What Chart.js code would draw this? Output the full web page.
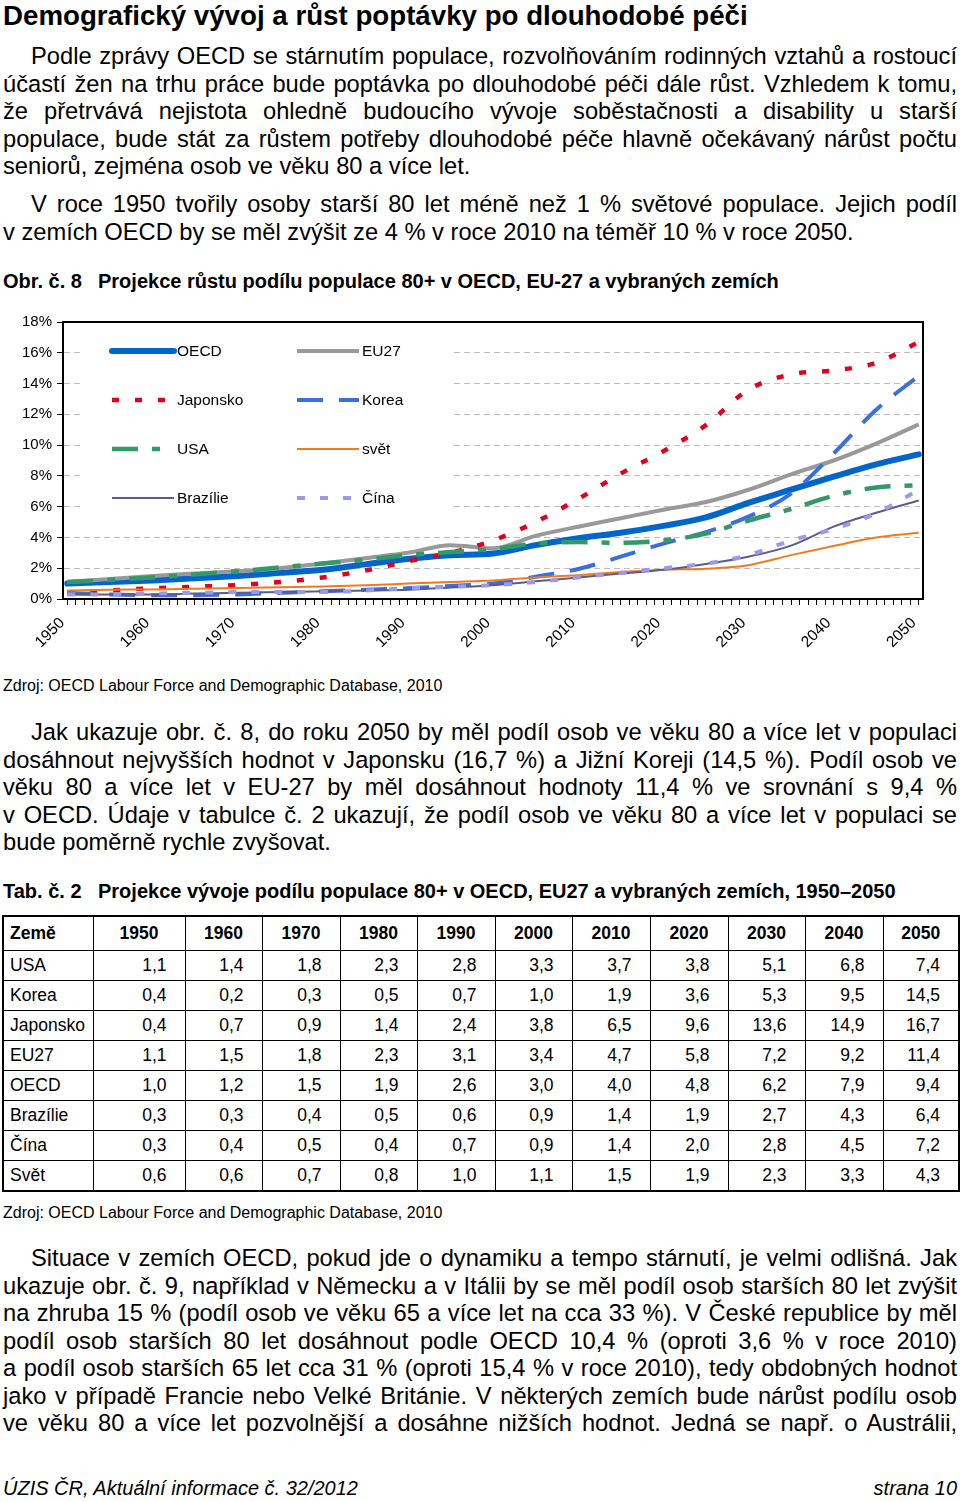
<!DOCTYPE html>
<html lang="cs">
<head>
<meta charset="utf-8">
<title>Demografický vývoj a růst poptávky po dlouhodobé péči</title>
<script src="https://cdn.jsdelivr.net/npm/chart.js@4.4.0/dist/chart.umd.min.js"></script>
<style>
    body {
        margin: 0;
        width: 960px;
        height: 1501px;
        position: relative;
        overflow: hidden;
        background: #fff;
        color: #000;
        font-family: "Liberation Sans", Arial, sans-serif;
    }
    .block { position: absolute; left: 3px; width: 954px; }
    .title { font-weight: bold; font-size: 27.7px; line-height: 32px; }
    .para div { font-size: 23.7px; line-height: 27.5px; height: 27.5px; text-align: justify; text-align-last: justify; }
    .para div.first { text-indent: 28px; }
    .para div.last { text-align-last: left; }
    .caption { font-weight: bold; font-size: 20px; line-height: 24px; }
    .caption span { display: inline-block; width: 95px; }
    .source { font-size: 16px; line-height: 20px; }
    #chartWrap { position: absolute; left: 0; top: 300px; width: 960px; height: 370px; }
    table { position: absolute; left: 2px; top: 915px; width: 956px; border-collapse: collapse; table-layout: fixed; border: 2px solid #000; font-size: 17.5px; }
    td, th { border: 1px solid #000; height: 29px; padding: 0; }
    th { height: 33px; font-weight: bold; text-align: center; }
    th.name, td.name { text-align: left; padding-left: 6px; }
    td.num { text-align: right; padding-right: 18px; }
    .footer { position: absolute; top: 1476px; font-style: italic; font-size: 20px; line-height: 24px; }
</style>
</head>
<body>

<div class="block title" style="top: 0px;">Demografický vývoj a růst poptávky po dlouhodobé péči</div>

<div class="block para" style="top: 43px;">
    <div class="first">Podle zprávy OECD se stárnutím populace, rozvolňováním rodinných vztahů a rostoucí</div>
    <div>účastí žen na trhu práce bude poptávka po dlouhodobé péči dále růst. Vzhledem k tomu,</div>
    <div>že přetrvává nejistota ohledně budoucího vývoje soběstačnosti a disability u starší</div>
    <div>populace, bude stát za růstem potřeby dlouhodobé péče hlavně očekávaný nárůst počtu</div>
    <div class="last">seniorů, zejména osob ve věku 80 a více let.</div>
</div>

<div class="block para" style="top: 191px;">
    <div class="first">V roce 1950 tvořily osoby starší 80 let méně než 1 % světové populace. Jejich podíl</div>
    <div class="last">v zemích OECD by se měl zvýšit ze 4 % v roce 2010 na téměř 10 % v roce 2050.</div>
</div>

<div class="block caption" style="top: 269px;"><span>Obr. č. 8</span>Projekce růstu podílu populace 80+ v OECD, EU-27 a vybraných zemích</div>

<div id="chartWrap"><canvas id="populationChart" width="960" height="370"></canvas></div>

<div class="block source" style="top: 676px;">Zdroj: OECD Labour Force and Demographic Database, 2010</div>

<div class="block para" style="top: 719px;">
    <div class="first">Jak ukazuje obr. č. 8, do roku 2050 by měl podíl osob ve věku 80 a více let v populaci</div>
    <div>dosáhnout nejvyšších hodnot v Japonsku (16,7 %) a Jižní Koreji (14,5 %). Podíl osob ve</div>
    <div>věku 80 a více let v EU-27 by měl dosáhnout hodnoty 11,4 % ve srovnání s 9,4 %</div>
    <div>v OECD. Údaje v tabulce č. 2 ukazují, že podíl osob ve věku 80 a více let v populaci se</div>
    <div class="last">bude poměrně rychle zvyšovat.</div>
</div>

<div class="block caption" style="top: 879px;"><span>Tab. č. 2</span>Projekce vývoje podílu populace 80+ v OECD, EU27 a vybraných zemích, 1950–2050</div>

<table id="shareTable"></table>

<div class="block source" style="top: 1203px;">Zdroj: OECD Labour Force and Demographic Database, 2010</div>

<div class="block para" style="top: 1245px;">
    <div class="first">Situace v zemích OECD, pokud jde o dynamiku a tempo stárnutí, je velmi odlišná. Jak</div>
    <div>ukazuje obr. č. 9, například v Německu a v Itálii by se měl podíl osob starších 80 let zvýšit</div>
    <div>na zhruba 15 % (podíl osob ve věku 65 a více let na cca 33 %). V České republice by měl</div>
    <div>podíl osob starších 80 let dosáhnout podle OECD 10,4 % (oproti 3,6 % v roce 2010)</div>
    <div>a podíl osob starších 65 let cca 31 % (oproti 15,4 % v roce 2010), tedy obdobných hodnot</div>
    <div>jako v případě Francie nebo Velké Británie. V některých zemích bude nárůst podílu osob</div>
    <div>ve věku 80 a více let pozvolnější a dosáhne nižších hodnot. Jedná se např. o Austrálii,</div>
</div>

<div class="footer" style="left: 3px;">ÚZIS ČR, Aktuální informace č. 32/2012</div>
<div class="footer" style="right: 3px;">strana 10</div>

<script>
// Chart data (share of population 80+, %), every 5 years
const years = [1950, 1955, 1960, 1965, 1970, 1975, 1980, 1985, 1990, 1995, 2000,
               2005, 2010, 2015, 2020, 2025, 2030, 2035, 2040, 2045, 2050];
const oecd   = [1.0, 1.1, 1.2, 1.35, 1.5, 1.7, 1.9, 2.25, 2.6, 2.85, 2.95, 3.5, 3.95, 4.3, 4.75, 5.3, 6.25, 7.1, 7.95, 8.75, 9.4];
const eu27   = [1.1, 1.3, 1.5, 1.65, 1.8, 2.0, 2.3, 2.65, 3.0, 3.5, 3.3, 4.1, 4.7, 5.25, 5.8, 6.3, 7.1, 8.1, 9.0, 10.1, 11.35];
const japan  = [0.4, 0.55, 0.7, 0.8, 0.9, 1.1, 1.4, 1.85, 2.45, 3.0, 3.8, 5.0, 6.5, 8.15, 9.6, 11.3, 13.6, 14.6, 14.85, 15.35, 16.7];
const korea  = [0.4, 0.3, 0.25, 0.25, 0.3, 0.4, 0.5, 0.6, 0.7, 0.85, 1.0, 1.45, 1.95, 2.75, 3.6, 4.35, 5.35, 6.85, 9.45, 12.3, 14.5];
const usa    = [1.1, 1.25, 1.4, 1.6, 1.8, 2.05, 2.3, 2.55, 2.85, 3.05, 3.25, 3.6, 3.7, 3.65, 3.8, 4.25, 5.1, 5.85, 6.7, 7.25, 7.4];
const world  = [0.55, 0.6, 0.62, 0.67, 0.72, 0.77, 0.82, 0.9, 1.0, 1.1, 1.2, 1.4, 1.55, 1.75, 1.9, 1.97, 2.2, 2.85, 3.45, 4.0, 4.3];
const brazil = [0.3, 0.3, 0.3, 0.35, 0.4, 0.45, 0.5, 0.55, 0.6, 0.75, 0.9, 1.15, 1.4, 1.65, 1.9, 2.28, 2.75, 3.47, 4.7, 5.6, 6.4];
const china  = [0.3, 0.3, 0.35, 0.4, 0.45, 0.45, 0.45, 0.55, 0.7, 0.8, 0.9, 1.1, 1.4, 1.7, 2.0, 2.3, 2.85, 3.8, 4.55, 5.57, 7.1];

const yTicks = [0, 2, 4, 6, 8, 10, 12, 14, 16, 18];
const xLabelYears = [1950, 1960, 1970, 1980, 1990, 2000, 2010, 2020, 2030, 2040, 2050];

// Table data (Tab. č. 2)
const tableYears = [1950, 1960, 1970, 1980, 1990, 2000, 2010, 2020, 2030, 2040, 2050];
const tableNames = ['USA', 'Korea', 'Japonsko', 'EU27', 'OECD', 'Brazílie', 'Čína', 'Svět'];
const tableUsa    = [1.1, 1.4, 1.8, 2.3, 2.8, 3.3, 3.7, 3.8, 5.1, 6.8, 7.4];
const tableKorea  = [0.4, 0.2, 0.3, 0.5, 0.7, 1.0, 1.9, 3.6, 5.3, 9.5, 14.5];
const tableJapan  = [0.4, 0.7, 0.9, 1.4, 2.4, 3.8, 6.5, 9.6, 13.6, 14.9, 16.7];
const tableEu27   = [1.1, 1.5, 1.8, 2.3, 3.1, 3.4, 4.7, 5.8, 7.2, 9.2, 11.4];
const tableOecd   = [1.0, 1.2, 1.5, 1.9, 2.6, 3.0, 4.0, 4.8, 6.2, 7.9, 9.4];
const tableBrazil = [0.3, 0.3, 0.4, 0.5, 0.6, 0.9, 1.4, 1.9, 2.7, 4.3, 6.4];
const tableChina  = [0.3, 0.4, 0.5, 0.4, 0.7, 0.9, 1.4, 2.0, 2.8, 4.5, 7.2];
const tableWorld  = [0.6, 0.6, 0.7, 0.8, 1.0, 1.1, 1.5, 1.9, 2.3, 3.3, 4.3];

const chartFont = { family: '"Liberation Sans", Arial, sans-serif', size: 15 };

function toPoints(values) {
    return years.map((year, i) => ({ x: year, y: values[i] }));
}

function buildTable() {
    const table = document.getElementById('shareTable');
    const rows = [tableUsa, tableKorea, tableJapan, tableEu27, tableOecd, tableBrazil, tableChina, tableWorld];
    const widths = [90, 92, 77, 78, 77, 78, 77, 78, 78, 77, 78, 76];

    let html = '<colgroup>' + widths.map(w => `<col style="width:${w}px">`).join('') + '</colgroup>';
    html += '<tr><th class="name">Země</th>' + tableYears.map(y => `<th>${y}</th>`).join('') + '</tr>';
    rows.forEach((values, i) => {
        html += `<tr><td class="name">${tableNames[i]}</td>`;
        html += values.map(v => `<td class="num">${v.toFixed(1).replace('.', ',')}</td>`).join('');
        html += '</tr>';
    });
    table.innerHTML = html;
}

// Legend drawn inside the plot, two columns like the original figure
const insideLegend = {
    id: 'insideLegend',
    beforeDatasetsDraw(chart) {
        const ctx = chart.ctx;
        const area = chart.chartArea;
        ctx.save();
        ctx.fillStyle = '#fff';
        ctx.fillRect(area.left + 19, area.top + 8, 371, 192);
        chart.data.datasets.forEach((ds, i) => {
            const col = i % 2;
            const row = Math.floor(i / 2);
            const x0 = area.left + 49 + col * 185;
            const y = area.top + 29 + row * 49;
            ctx.beginPath();
            ctx.strokeStyle = ds.borderColor;
            ctx.lineWidth = ds.borderWidth;
            ctx.lineCap = ds.borderCapStyle || 'butt';
            ctx.setLineDash(ds.borderDash || []);
            ctx.moveTo(x0, y);
            ctx.lineTo(x0 + 62, y);
            ctx.stroke();
            ctx.setLineDash([]);
            ctx.fillStyle = '#000';
            ctx.font = '15.5px "Liberation Sans", Arial, sans-serif';
            ctx.textBaseline = 'middle';
            ctx.fillText(ds.label, x0 + 65, y + 1);
        });
        ctx.restore();
    }
};

// Black frame round the plot area
const plotFrame = {
    id: 'plotFrame',
    afterDraw(chart) {
        const ctx = chart.ctx;
        const a = chart.chartArea;
        ctx.save();
        ctx.strokeStyle = '#000';
        ctx.lineWidth = 2;
        ctx.strokeRect(a.left, a.top, a.right - a.left, a.bottom - a.top);
        ctx.restore();
    }
};

function initChart() {
    const ctx = document.getElementById('populationChart').getContext('2d');
    new Chart(ctx, {
        type: 'line',
        data: {
            datasets: [
                { label: 'OECD', data: toPoints(oecd), borderColor: '#0066CC', borderWidth: 6, borderCapStyle: 'round', order: 8 },
                { label: 'EU27', data: toPoints(eu27), borderColor: '#999999', borderWidth: 4, order: 7 },
                { label: 'Japonsko', data: toPoints(japan), borderColor: '#E3001B', borderWidth: 4.5, borderDash: [7, 16], order: 6 },
                { label: 'Korea', data: toPoints(korea), borderColor: '#3A6FE0', borderWidth: 4, borderDash: [26, 16], order: 5 },
                { label: 'USA', data: toPoints(usa), borderColor: '#339966', borderWidth: 4.5, borderDash: [26, 14, 8, 14], order: 4 },
                { label: 'svět', data: toPoints(world), borderColor: '#F07A1E', borderWidth: 2, order: 3 },
                { label: 'Brazílie', data: toPoints(brazil), borderColor: '#5C5C8A', borderWidth: 2, order: 2 },
                { label: 'Čína', data: toPoints(china), borderColor: '#9999EE', borderWidth: 4, borderDash: [8, 15], order: 1 }
            ]
        },
        options: {
            responsive: false,
            animation: false,
            layout: { padding: { top: 22, right: 37, left: 0, bottom: 0 } },
            elements: {
                point: { radius: 0 },
                line: { cubicInterpolationMode: 'monotone', fill: false }
            },
            plugins: {
                legend: { display: false },
                tooltip: { enabled: false }
            },
            scales: {
                x: {
                    type: 'linear',
                    min: years[0] - 0.5,
                    max: years[years.length - 1] + 0.5,
                    afterBuildTicks: scale => {
                        const ticks = [];
                        for (let y = years[0]; y <= years[years.length - 1]; y++) ticks.push({ value: y });
                        scale.ticks = ticks;
                    },
                    afterFit: scale => { scale.height = 71; },
                    grid: { drawOnChartArea: false, drawTicks: true, tickLength: 6, tickColor: '#000', tickWidth: 1 },
                    border: { color: '#000', width: 2 },
                    ticks: {
                        autoSkip: false,
                        maxRotation: 45,
                        minRotation: 45,
                        padding: 9,
                        labelOffset: -5,
                        color: '#000',
                        font: { family: chartFont.family, size: 15.5 },
                        callback: v => xLabelYears.includes(v) ? String(v) : ''
                    }
                },
                y: {
                    min: yTicks[0],
                    max: yTicks[yTicks.length - 1],
                    afterFit: scale => { scale.width = 63; },
                    ticks: { stepSize: 2, padding: 5, color: '#000', font: chartFont, callback: v => v + '%' },
                    grid: {
                        color: c => (c.tick && (c.tick.value === yTicks[0] || c.tick.value === yTicks[yTicks.length - 1])) ? 'rgba(0,0,0,0)' : '#BDBDBD',
                        tickColor: '#000',
                        tickLength: 6,
                        lineWidth: 1
                    },
                    border: { color: '#000', width: 2, dash: [6, 4] }
                }
            }
        },
        plugins: [insideLegend, plotFrame]
    });
}

document.addEventListener('DOMContentLoaded', function() {
    buildTable();
    initChart();
});
</script>
</body>
</html>
